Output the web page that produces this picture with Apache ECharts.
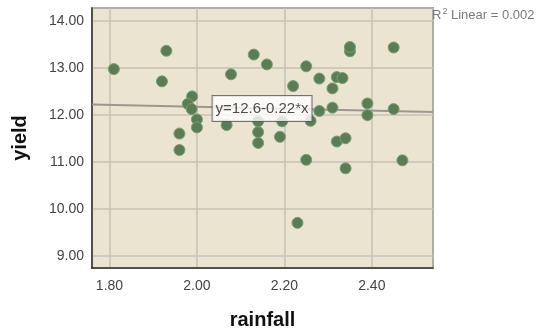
<!DOCTYPE html>
<html>
<head>
<meta charset="utf-8">
<script src="https://cdn.jsdelivr.net/npm/echarts@6/dist/echarts.min.js"></script>
<style>html,body{margin:0;padding:0;background:#fff;}#c{width:545px;height:330px;}</style>
</head>
<body>
<div id="c"></div>
<script>
// Observed data (rainfall, yield)
const rainfall = [1.81,1.93,1.92,1.989,1.979,1.988,2.00,2.00,1.96,1.96,2.068,2.078,2.13,2.16,2.25,2.22,2.28,2.35,2.35,2.45,2.32,2.333,2.31,2.28,2.31,2.39,2.39,2.45,2.32,2.34,2.47,2.34,2.14,2.14,2.14,2.19,2.195,2.25,2.26,2.23];
const yieldVals = [12.97,13.36,12.71,12.39,12.23,12.12,11.90,11.73,11.60,11.25,11.78,12.86,13.28,13.07,13.03,12.61,12.77,13.35,13.44,13.43,12.80,12.78,12.56,12.08,12.15,12.24,11.99,12.12,11.43,11.50,11.03,10.86,11.86,11.63,11.40,11.53,11.86,11.04,11.87,9.70];
// Fit line endpoints
const fitX = [1.76, 2.54];
const fitY = [12.22, 12.06];
const fitLabel = 'y=12.6-0.22*x';
const fitLabelPos = [2.149, 12.13];
const r2Value = '0.002';
const xRange = [1.76, 2.54];
const yRange = [8.74, 14.27];

const points = rainfall.map((x, i) => [x, yieldVals[i]]);
const fitLine = fitX.map((x, i) => [x, fitY[i]]);
const FONT = 'Liberation Sans, Arial, sans-serif';

const chart = echarts.init(document.getElementById('c'), null, {renderer: 'canvas'});
chart.setOption({
  animation: false,
  backgroundColor: '#ffffff',
  title: {
    text: '{r|R}{s|2}{r| Linear = ' + r2Value + '}',
    left: 432, top: 7, padding: 0,
    textStyle: {
      fontWeight: 'normal',
      rich: {
        r: {fontSize: 13, color: '#7a7a7a', fontFamily: FONT, fontWeight: 'normal', lineHeight: 16},
        s: {fontSize: 9, color: '#7a7a7a', fontFamily: FONT, fontWeight: 'normal', verticalAlign: 'top', lineHeight: 16, padding: [0,0,6,1]}
      }
    }
  },
  grid: {
    left: 92, top: 8, right: 112, bottom: 62,
    containLabel: false, outerBoundsMode: 'none',
    show: true, backgroundColor: '#ebe4d0', borderColor: '#444', borderWidth: 1.5
  },
  xAxis: {
    type: 'value', min: xRange[0], max: xRange[1], splitNumber: 5,
    name: 'rainfall', nameLocation: 'middle', nameGap: 42,
    nameTextStyle: {fontSize: 20, fontWeight: 'bold', color: '#111', fontFamily: FONT},
    axisLine: {show: true, lineStyle: {color: '#333', width: 1.5}},
    axisTick: {show: false},
    axisLabel: {showMinLabel: false, showMaxLabel: false, fontSize: 14, color: '#444', fontFamily: FONT, margin: 11,
      formatter: v => v.toFixed(2)},
    splitLine: {show: true, lineStyle: {color: '#c9c2b6', width: 1.5}}
  },
  yAxis: {
    type: 'value', min: yRange[0], max: yRange[1], splitNumber: 5,
    name: 'yield', nameLocation: 'middle', nameGap: 62, nameRotate: 90,
    nameTextStyle: {fontSize: 20, fontWeight: 'bold', color: '#111', fontFamily: FONT},
    axisLine: {show: true, lineStyle: {color: '#333', width: 1.5}},
    axisTick: {show: false},
    axisLabel: {showMinLabel: false, showMaxLabel: false, fontSize: 14, color: '#444', fontFamily: FONT, margin: 8,
      formatter: v => v.toFixed(2)},
    splitLine: {show: true, lineStyle: {color: '#c9c2b6', width: 1.5}}
  },
  series: [
    {
      type: 'line', data: fitLine, symbol: 'none', z: 2,
      lineStyle: {color: '#9d978f', width: 2}
    },
    {
      type: 'scatter', data: points, symbolSize: 11, z: 3,
      itemStyle: {color: '#5a7d56', borderColor: '#7aa070', borderWidth: 1, opacity: 1}
    },
    {
      type: 'scatter', data: [fitLabelPos], symbolSize: 0, z: 10, silent: true,
      label: {
        show: true, position: 'inside', formatter: fitLabel,
        fontSize: 15, color: '#222', fontFamily: FONT,
        backgroundColor: '#ffffff', borderColor: '#555', borderWidth: 1, padding: [5, 3, 5, 3]
      }
    }
  ]
});
</script>
</body>
</html>
